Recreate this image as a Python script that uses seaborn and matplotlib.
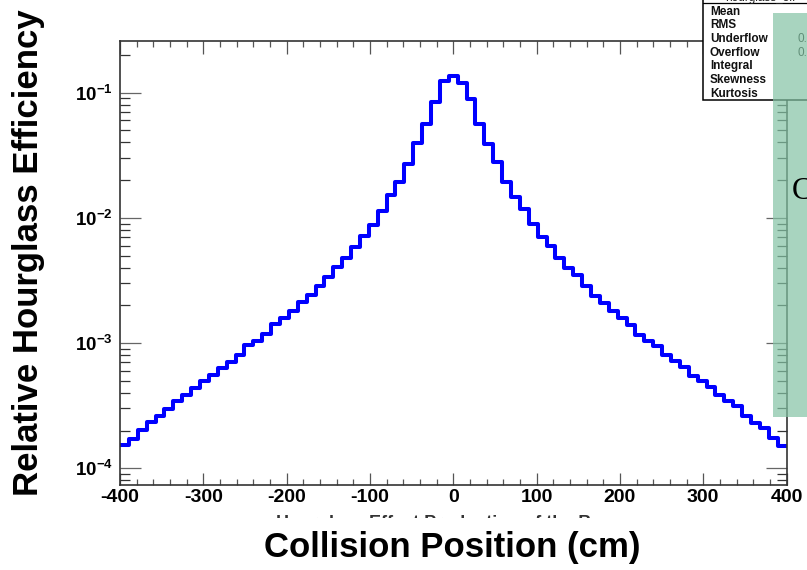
import numpy as np
import pandas as pd
import matplotlib
matplotlib.use("Agg")
import matplotlib.pyplot as plt
from matplotlib.patches import Rectangle
from matplotlib.ticker import FixedLocator, LogLocator, NullFormatter, FuncFormatter
import seaborn as sns

# ---------------- data ----------------
x_min, x_max, n_bins = -400.0, 400.0, 75
efficiency = [
    1.543e-4, 1.722e-4, 2.033e-4, 2.333e-4, 2.596e-4, 2.990e-4, 3.463e-4, 3.832e-4,
    4.358e-4, 4.937e-4, 5.534e-4, 6.293e-4, 7.093e-4, 8.065e-4, 9.568e-4, 1.037e-3,
    1.171e-3, 1.426e-3, 1.577e-3, 1.800e-3, 2.136e-3, 2.407e-3, 2.840e-3, 3.381e-3,
    4.027e-3, 4.734e-3, 5.869e-3, 7.183e-3, 8.842e-3, 1.144e-2, 1.512e-2, 1.949e-2,
    2.698e-2, 3.990e-2, 5.627e-2, 8.384e-2, 0.1240, 0.1359, 0.1189, 8.858e-2,
    5.627e-2, 3.874e-2, 2.814e-2, 1.949e-2, 1.479e-2, 1.180e-2, 8.907e-3, 7.093e-3,
    6.010e-3, 4.769e-3, 3.968e-3, 3.463e-3, 2.866e-3, 2.385e-3, 2.085e-3, 1.787e-3,
    1.583e-3, 1.400e-3, 1.165e-3, 1.030e-3, 9.517e-4, 8.065e-4, 7.132e-4, 6.433e-4,
    5.413e-4, 4.937e-4, 4.455e-4, 3.867e-4, 3.419e-4, 3.119e-4, 2.596e-4, 2.299e-4,
    2.097e-4, 1.744e-4, 1.495e-4,
]
x_ticks = [-400, -300, -200, -100, 0, 100, 200, 300, 400]
y_ticks = [1e-4, 1e-3, 1e-2, 1e-1]
y_limits = (7.41e-5, 0.2586)
stats_rows = ["Mean", "RMS", "Underflow", "Overflow", "Integral", "Skewness", "Kurtosis"]
x_title = "Collision Position (cm)"
y_title = "Relative Hourglass Efficiency"
hidden_title = "Hourglass Effect Production of the Beam"

edges = [float(e) for e in np.linspace(x_min, x_max, n_bins + 1)]
centers = [0.5 * (a + b) for a, b in zip(edges[:-1], edges[1:])]
df = pd.DataFrame({"z": centers, "eff": efficiency})

# ---------------- style ----------------
sns.set_style("white")
plt.rcParams["font.family"] = ["Liberation Sans", "DejaVu Sans"]
plt.rcParams["mathtext.fontset"] = "custom"
plt.rcParams["mathtext.rm"] = "Liberation Sans:bold"
plt.rcParams["mathtext.bf"] = "Liberation Sans:bold"
plt.rcParams["mathtext.it"] = "Liberation Sans:bold"

W, H = 807, 570
fig = plt.figure(figsize=(W / 100, H / 100), dpi=100)
fig.patch.set_facecolor("white")
ax = fig.add_axes([120 / W, (H - 484.5) / H, (786.5 - 120) / W, (484.5 - 41) / H])

sns.histplot(data=df, x="z", weights="eff", bins=edges, element="step",
             fill=False, color="#0000ff", linewidth=2.9, ax=ax)

ax.set_yscale("log")
ax.set_xlim(x_min, x_max)
ax.set_ylim(*y_limits)
ax.set_xlabel("")
ax.set_ylabel("")

ax.xaxis.set_major_locator(FixedLocator(x_ticks))
ax.xaxis.set_minor_locator(FixedLocator(np.arange(-400, 401, 20)))
ax.yaxis.set_major_locator(FixedLocator(y_ticks))
ax.yaxis.set_minor_locator(LogLocator(base=10, subs=np.arange(2, 10), numticks=20))
ax.yaxis.set_minor_formatter(NullFormatter())
ax.xaxis.set_major_formatter(FuncFormatter(lambda v, p: f"{int(v)}"))
ax.yaxis.set_major_formatter(FuncFormatter(
    lambda v, p: r"$\mathbf{10^{%d}}$" % int(round(np.log10(v)))))

ax.tick_params(axis="x", which="major", direction="in", length=9, width=0.9,
               color="#555555", top=True, bottom=True, pad=3, labelsize=14,
               labelcolor="black")
ax.tick_params(axis="x", which="minor", direction="in", length=4, width=0.9,
               color="#555555", top=True, bottom=True)
ax.tick_params(axis="y", which="major", direction="in", length=15, width=0.9,
               color="#666666", left=True, right=True, pad=5, labelsize=13.5,
               labelcolor="black")
ax.tick_params(axis="y", which="minor", direction="in", length=7, width=0.9,
               color="#333333", left=True, right=True)
for lab in ax.get_xticklabels():
    lab.set_fontweight("bold")
for sp in ax.spines.values():
    sp.set_color("#333333")
    sp.set_linewidth(1.2)

# hidden histogram title, mostly covered by the x-axis title
fig.text(452 / W, 1 - 523 / H, hidden_title, ha="center", va="center",
         fontsize=13, fontweight="bold", color="#333333", zorder=1)
fig.patches.append(Rectangle((0, 0), 1, 1 - 518 / H, transform=fig.transFigure,
                             facecolor="white", edgecolor="none", zorder=2))
fig.text(452 / W, 1 - 548 / H, x_title, ha="center", va="center",
         fontsize=25, fontweight="bold", color="black", zorder=3)
fig.text(29 / W, 1 - 253 / H, y_title, ha="center", va="center", rotation=90,
         fontsize=25, fontweight="bold", color="black", zorder=3)

# stats box (top right)
fig.patches.append(Rectangle((703 / W, 1 - 100 / H), 0.2, 0.2, transform=fig.transFigure,
                             facecolor="white", edgecolor="black", linewidth=1.1, zorder=5))
fig.lines.append(plt.Line2D([703 / W, 1], [1 - 3 / H, 1 - 3 / H], transform=fig.transFigure,
                            color="black", linewidth=0.9, zorder=6))
fig.text(760 / W, 1 + 2 / H, "hourglass_eff", ha="center", va="center", fontsize=8.5,
         color="#222222", zorder=6)
row_y = [11.7, 25, 39.3, 52.7, 65.5, 80, 94]
for name, yy in zip(stats_rows, row_y):
    fig.text(710 / W, 1 - yy / H, name, ha="left", va="center", fontsize=8.5,
             fontweight="bold", color="#111111", zorder=6)
fig.text(797 / W, 1 - 39.3 / H, "0.", ha="left", va="center", fontsize=8.5, color="#111111", zorder=6)
fig.text(797 / W, 1 - 52.7 / H, "0.", ha="left", va="center", fontsize=8.5, color="#111111", zorder=6)

# translucent green overlay box on the right
fig.patches.append(Rectangle((773 / W, 1 - 417 / H), 0.2, (417 - 13) / H, transform=fig.transFigure,
                             facecolor="#83c3a4", alpha=0.7, edgecolor="none", zorder=7))
fig.text(792 / W, 1 - 192 / H, "C", ha="left", va="center", fontsize=22,
         family=["Liberation Serif", "DejaVu Serif"], color="black", zorder=8)

fig.savefig("out.png", dpi=100, facecolor="white")
